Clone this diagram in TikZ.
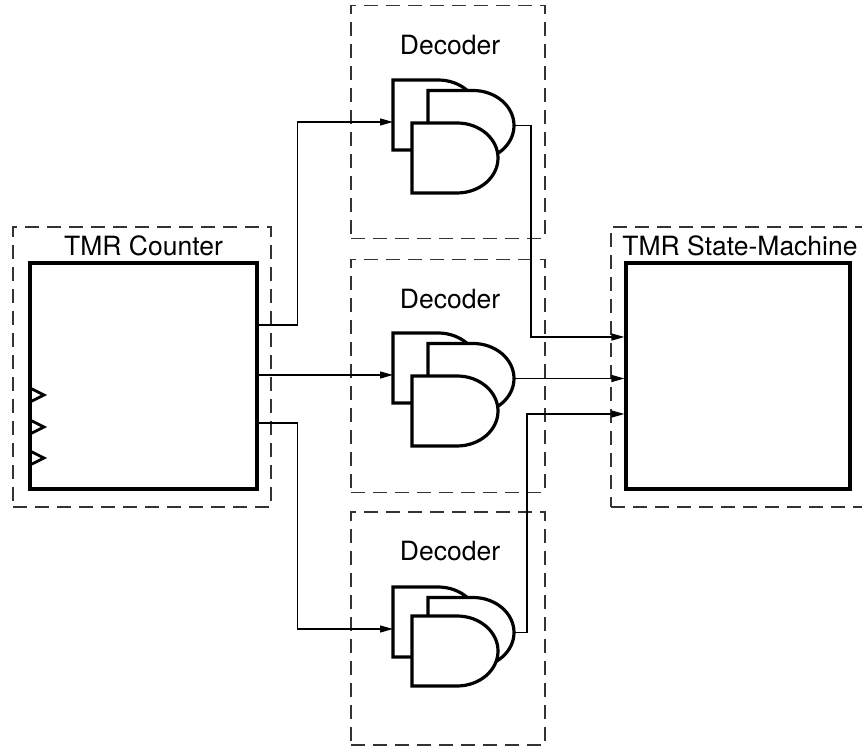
\documentclass[tikz,border=0pt]{standalone}
\usepackage{fontspec}
\setmainfont{TeX Gyre Heros}
\usetikzlibrary{positioning,arrows.meta}

\tikzset{
  frame/.style={draw=black!80, line width=1.6pt, dash pattern=on 14pt off 8pt, inner sep=0pt},
  block/.style={draw, line width=3.2pt, inner sep=0pt},
  gate/.style={draw, fill=white, line width=3.2pt},
  sig/.style={line width=1.3pt, -{Triangle[length=13pt,width=7pt]}},
  clk/.style={line width=2.8pt},
  pics/andgate/.style={code={
    \draw[gate] (0,0) -- (45,0) arc[start angle=90, end angle=-90, x radius=41pt, y radius=35pt] -- (0,-70) -- cycle;
  }},
  pics/gatestack/.style={code={
    \pic at (0,0) {andgate};
    \pic at (35,-10.5) {andgate};
    \pic at (19,-#1) {andgate};
    \coordinate (-in) at (0,-42);
    \coordinate (-out) at (121,-45.5);
  }}
}

\begin{document}
\begin{tikzpicture}[x=1pt, y=1pt]

\tikzstyle{every node}=[font=\fontsize{26.5}{30}\selectfont]

\useasboundingbox (0,0) rectangle (862,746);
\clip (0,0) rectangle (862,746);

% frames %
\node[frame, minimum width=258pt, minimum height=280pt] (cnt) at (142,379) {};
\node[frame, minimum width=194pt, minimum height=233pt] (dec1) at (448,624) {};
\node[frame, minimum width=194pt, minimum height=233pt] (dec2) at (448,370) {};
\node[frame, minimum width=194pt, minimum height=233pt] (dec3) at (448,117.5) {};
\node[frame, minimum width=253pt, minimum height=280pt] (fsm) at (737.5,379) {};

% blocks %
\node[block, minimum width=227pt, minimum height=226pt] (cntbox) at (143.5,370) {};
\node[block, minimum width=224pt, minimum height=226pt] (fsmbox) at (738,370) {};

% labels %
\node[above=5.5pt of cntbox, inner sep=0pt] (cntlabel) {TMR Counter};
\node[above=5.5pt of fsmbox, inner sep=0pt, xshift=2pt] (fsmlabel) {TMR State-Machine};
\node[below=30pt of dec1.north, inner sep=0pt, xshift=2pt] (dec1label) {Decoder};
\node[below=30pt of dec2.north, inner sep=0pt, xshift=2pt] (dec2label) {Decoder};
\node[below=30pt of dec3.north, inner sep=0pt, xshift=2pt] (dec3label) {Decoder};

% clock inputs %
\foreach \y in {351,319,288}
  \draw[clk] (30,\y+7) -- (44,\y) -- (30,\y-7);

% gates %
\pic (g1) at (393,666) {gatestack=43};
\pic (g2) at (393,413) {gatestack=43};
\pic (g3) at (393,159) {gatestack=29};

% edges %
\draw[sig] ([yshift=51pt]cntbox.east) -- ++(39,0) |- (g1-in);
\draw[sig] (cntbox.east |- g2-in) -- (g2-in);
\draw[sig] ([yshift=-47pt]cntbox.east) -- ++(39,0) |- (g3-in);
\draw[sig] (g1-out) -- ++(17,0) |- ([yshift=39pt]fsmbox.west);
\draw[sig] (g2-out) -- (fsmbox.west |- g2-out);
\draw[sig] (g3-out) -- ++(13,0) |- ([yshift=-38pt]fsmbox.west);

\end{tikzpicture}
\end{document}
